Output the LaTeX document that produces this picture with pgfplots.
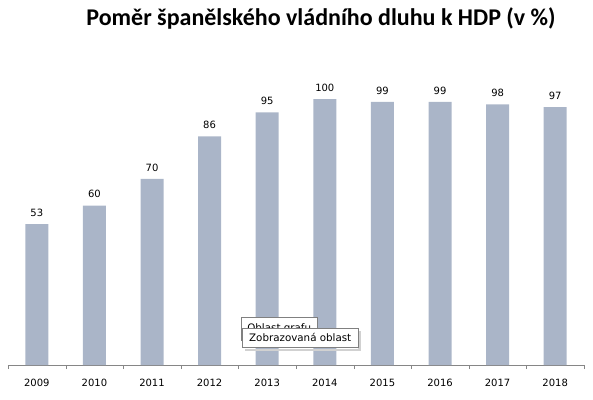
\documentclass[border=0pt]{standalone}
\usepackage{pgfplots}
\pgfplotsset{compat=1.18}
\usepackage{fontspec}
\setmainfont{DejaVu Sans}
\newfontfamily\titlefont{Carlito}
\definecolor{barc}{RGB}{170,181,200}
\definecolor{axc}{RGB}{134,134,134}
\begin{document}
\begin{tikzpicture}
\path (0,0) rectangle (593pt,399pt);
\begin{axis}[
  at={(8pt,34pt)}, anchor=south west,
  scale only axis, width=576pt, height=319pt,
  xmin=-0.5, xmax=9.5, ymin=0, ymax=120,
  axis x line*=bottom, axis y line=none,
  x axis line style={axc, -},
  xtick={0,...,9},
  xticklabels={2009,2010,2011,2012,2013,2014,2015,2016,2017,2018},
  major x tick style={draw=none},
  minor xtick={-0.5,0.5,...,9.5},
  minor x tick style={axc},
  xtick align=outside,
  minor tick length=4pt,
  x tick label style={font=\fontsize{10}{12}\selectfont, yshift=-6pt},
  /pgf/number format/assume math mode=true,
  ybar, bar width=23pt,
  nodes near coords,
  every node near coord/.append style={font=\fontsize{10}{12}\selectfont, yshift=4pt},
  clip=false,
]
\addplot[fill=barc, draw=none] coordinates {(0,53) (1,60) (2,70) (3,86) (4,95) (5,100) (6,99) (7,99) (8,98) (9,97)};
\end{axis}
\node[font=\titlefont\bfseries\fontsize{24}{28}\selectfont, anchor=base] at (321pt,373pt) {Poměr španělského vládního dluhu k HDP (v \%)};
\node[draw=gray, fill=white, inner sep=0pt, anchor=north west, font=\fontsize{10.3}{11}\selectfont, minimum width=76pt, minimum height=23pt] at (241pt,82pt) {Oblast grafu};
\fill[black!18] (245pt,50pt) rectangle (361pt,48pt);
\fill[black!18] (358pt,68pt) rectangle (361pt,48pt);
\node[draw=gray, fill=white, inner sep=0pt, anchor=north west, font=\fontsize{10.3}{11}\selectfont, minimum width=116pt, minimum height=19pt] at (242pt,71pt) {Zobrazovaná oblast};
\end{tikzpicture}
\end{document}
